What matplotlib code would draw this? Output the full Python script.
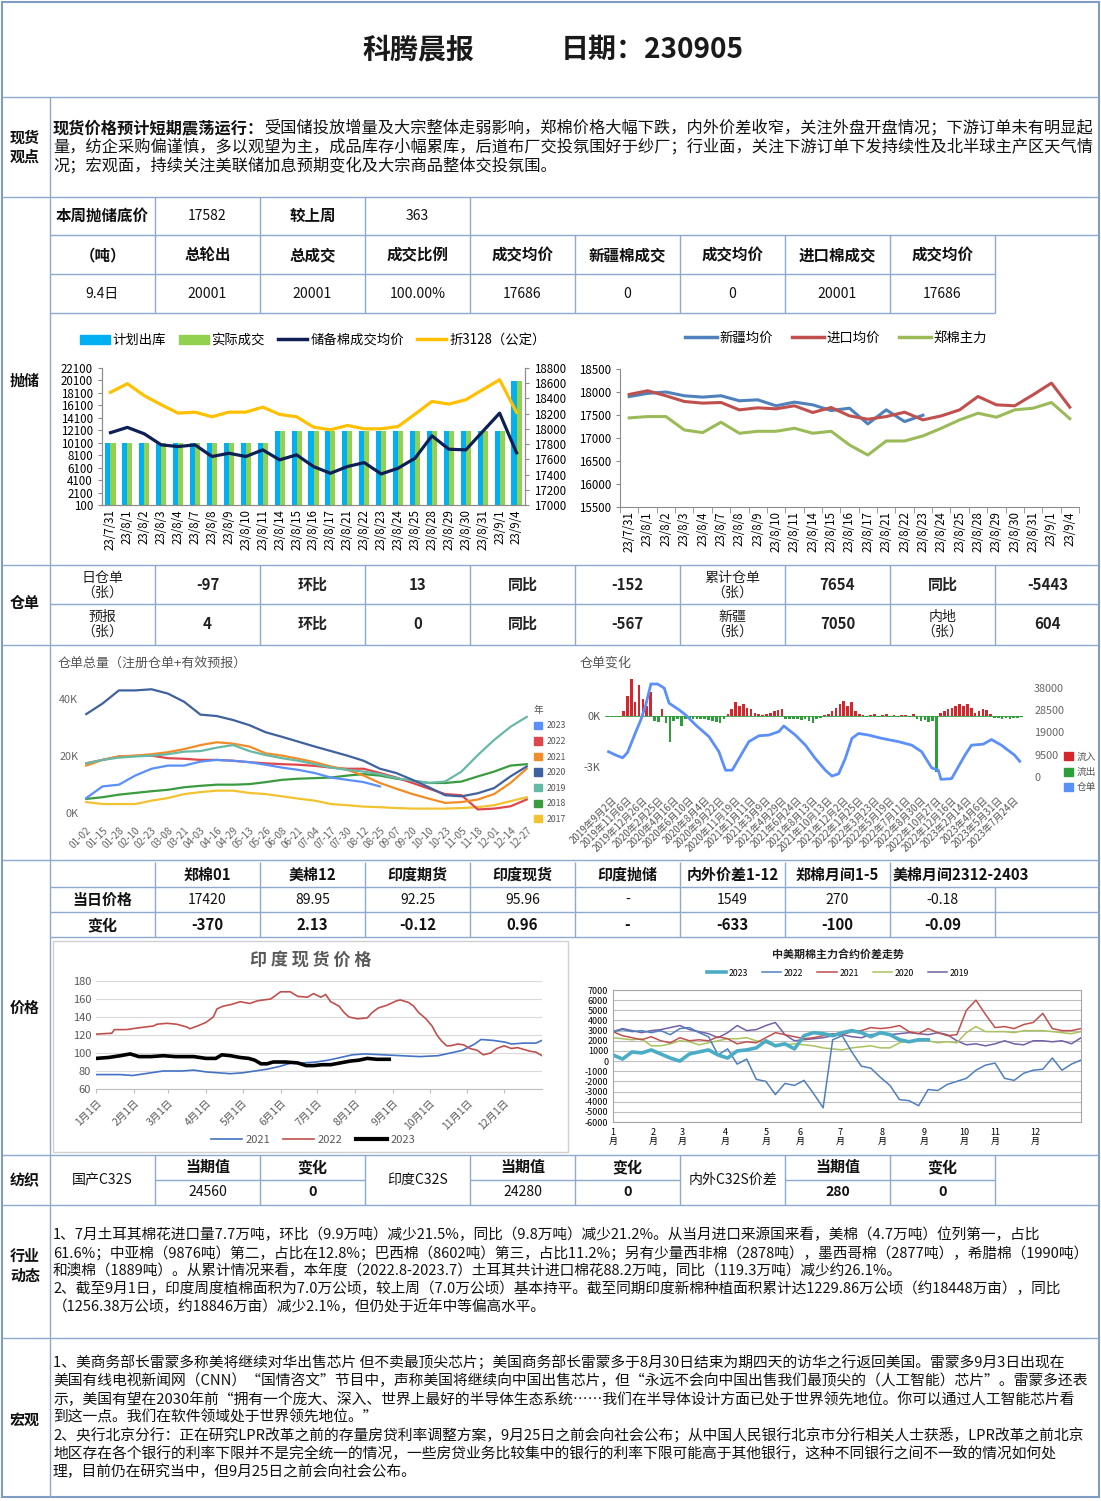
import numpy as np
import matplotlib
matplotlib.use('Agg')
import matplotlib.pyplot as plt
from matplotlib.patches import Rectangle, Patch
from matplotlib.lines import Line2D

plt.rcParams['font.family'] = ['Noto Sans CJK SC', 'DejaVu Sans']
plt.rcParams['axes.unicode_minus'] = False

# ================= DATA =================
title_left = '科腾晨报'
title_right = '日期：230905'

view_bold = '现货价格预计短期震荡运行：'
view_lines = ['受国储投放增量及大宗整体走弱影响，郑棉价格大幅下跌，内外价差收窄，关注外盘开盘情况；下游订单未有明显起',
              '量，纺企采购偏谨慎，多以观望为主，成品库存小幅累库，后道布厂交投氛围好于纱厂；行业面，关注下游订单下发持续性及北半球主产区天气情',
              '况；宏观面，持续关注美联储加息预期变化及大宗商品整体交投氛围。']

auc_row1 = ['本周抛储底价', '17582', '较上周', '363']
auc_head = ['（吨）', '总轮出', '总成交', '成交比例', '成交均价', '新疆棉成交', '成交均价', '进口棉成交', '成交均价']
auc_vals = ['9.4日', '20001', '20001', '100.00%', '17686', '0', '0', '20001', '17686']

dates1 = ['23/7/31', '23/8/1', '23/8/2', '23/8/3', '23/8/4', '23/8/7', '23/8/8', '23/8/9', '23/8/10',
          '23/8/11', '23/8/14', '23/8/15', '23/8/16', '23/8/17', '23/8/21', '23/8/22', '23/8/23',
          '23/8/24', '23/8/25', '23/8/28', '23/8/29', '23/8/30', '23/8/31', '23/9/1', '23/9/4']
plan_out = [10000]*10 + [12000]*14 + [20001]
actual_deal = [10000]*10 + [12000]*14 + [20001]
reserve_avg = [17950, 18020, 17935, 17790, 17768, 17790, 17637, 17680, 17637, 17724, 17593, 17659,
               17505, 17417, 17505, 17557, 17408, 17483, 17615, 17909, 17733, 17724, 17966, 18207, 17686]
zhe3128 = [18480, 18594, 18436, 18317, 18207, 18220, 18159, 18220, 18220, 18286, 18190, 18159,
           18023, 17988, 18045, 18001, 18001, 18032, 18194, 18361, 18326, 18383, 18515, 18646, 18216]

xj_avg = [17900, 17970, 18000, 17918, 17889, 17918, 17809, 17830, 17700, 17780, 17721, 17597,
          17648, 17306, 17612, 17357, 17495]
imp_avg = [17947, 18027, 17918, 17794, 17758, 17772, 17612, 17656, 17634, 17700, 17554, 17663,
           17481, 17408, 17466, 17561, 17394, 17481, 17612, 17903, 17721, 17700, 17940, 18194, 17670]
zc_main = [17437, 17466, 17466, 17175, 17117, 17343, 17103, 17146, 17146, 17212, 17103, 17146,
           16848, 16630, 16935, 16935, 17045, 17212, 17394, 17539, 17452, 17612, 17648, 17772, 17420]

wr_row1 = [('日仓单\n（张）', 0), ('-97', 1), ('环比', 1), ('13', 1), ('同比', 1), ('-152', 1),
           ('累计仓单\n（张）', 0), ('7654', 1), ('同比', 1), ('-5443', 1)]
wr_row2 = [('预报\n（张）', 0), ('4', 1), ('环比', 1), ('0', 1), ('同比', 1), ('-567', 1),
           ('新疆\n（张）', 0), ('7050', 1), ('内地\n（张）', 0), ('604', 1)]

# warehouse total (K) sampled at tick dates
wt_ticks = ['01-02', '01-15', '01-28', '02-10', '02-23', '03-08', '03-21', '04-03', '04-16', '04-29',
            '05-13', '05-26', '06-08', '06-21', '07-04', '07-17', '07-30', '08-12', '08-25', '09-07',
            '09-20', '10-10', '10-23', '11-05', '11-18', '12-01', '12-14', '12-27']
wt_2023 = [5.2, 9.3, 9.9, 13.1, 15.5, 16.6, 16.6, 18.0, 18.6, 18.3, 17.8, 16.9, 15.9, 15.1, 14.0,
           12.4, 11.6, 10.8, 9.3] + [np.nan]*9
wt_2022 = [17.4, 18.6, 19.8, 20.0, 20.1, 19.2, 19.0, 18.6, 18.6, 18.3, 17.8, 17.4, 17.1, 16.9, 16.5,
           15.9, 15.5, 15.5, 14.0, 12.4, 10.5, 8.5, 6.6, 6.2, 1.2, 1.5, 2.3, 4.7]
wt_2021 = [16.6, 18.6, 19.8, 20.1, 20.6, 21.3, 22.4, 23.8, 24.8, 24.3, 23.3, 20.9, 20.1, 19.0, 17.8,
           16.3, 15.1, 13.1, 10.5, 8.5, 6.6, 5.0, 3.5, 3.8, 4.7, 6.6, 10.5, 15.5]
wt_2020 = [34.7, 38.4, 43.0, 43.0, 43.4, 41.9, 39.0, 34.5, 34.0, 32.6, 30.8, 28.3, 26.7, 25.0, 23.3,
           21.7, 20.1, 18.3, 15.5, 14.0, 11.6, 9.0, 6.2, 5.8, 6.9, 8.7, 12.8, 16.3]
wt_2019 = [17.4, 18.6, 19.4, 19.8, 20.1, 20.6, 21.5, 21.7, 22.9, 23.8, 21.7, 20.3, 19.2, 18.3, 17.1,
           15.9, 15.1, 14.5, 13.6, 12.2, 11.3, 10.5, 11.0, 14.5, 20.3, 25.6, 30.2, 33.7]
wt_2018 = [4.9, 5.5, 6.4, 7.0, 7.6, 8.1, 9.0, 9.5, 9.9, 9.9, 10.1, 10.8, 11.6, 12.0, 12.2,
           12.4, 13.1, 13.6, 13.1, 12.0, 11.3, 10.5, 10.5, 11.0, 12.8, 14.5, 16.6, 17.1]
wt_2017 = [3.8, 3.1, 3.1, 3.1, 4.3, 5.2, 6.6, 7.3, 7.8, 7.8, 7.0, 6.6, 5.8, 5.0, 4.3,
           3.1, 2.7, 2.2, 2.0, 1.7, 1.5, 1.5, 1.5, 1.7, 2.0, 2.7, 4.1, 5.5]

# warehouse change chart
wc_ticks = ['2019年9月2日', '2019年11月6日', '2019年12月26日', '2020年2月25日', '2020年4月16日',
            '2020年6月10日', '2020年8月4日', '2020年9月22日', '2020年11月19日', '2021年1月11日',
            '2021年3月9日', '2021年4月29日', '2021年6月24日', '2021年8月13日', '2021年10月13日',
            '2021年12月2日', '2022年1月25日', '2022年3月23日', '2022年5月19日', '2022年7月11日',
            '2022年8月30日', '2022年10月27日', '2022年12月16日', '2023年2月14日', '2023年4月6日',
            '2023年5月31日', '2023年7月24日']
# net daily change (K), sampled every quarter of a tick interval
wc_net = [-0.05, -0.05, -0.05, -0.05, 0.3, 1.2, 2.2, 0.8, 1.8, 1.0, 0.6, 1.4,
          -0.3, -0.35, 0.4, -0.4, -1.5, -0.3, -0.2, -0.6, -0.2, -0.15, -0.2, -0.2,
          -0.15, -0.2, -0.25, -0.3, -0.35, -0.4, -0.2, 0.1, 0.4, 0.8, 0.6, 0.7,
          0.5, 0.4, 0.2, 0.1, 0.05, 0.1, 0.15, 0.3, 0.35, 0.4, -0.15, -0.15,
          -0.2, -0.2, -0.25, -0.2, -0.3, -0.4, -0.2, -0.1, 0.05, 0.1, 0.3, 0.5,
          0.7, 0.9, 0.6, 0.8, 0.3, 0.1, 0.05, -0.05, 0.05, 0.1, -0.05, 0.05,
          0.1, -0.05, 0.05, -0.05, 0.05, 0.05, -0.05, 0.1, -0.2, -0.3, -0.25, -0.35,
          -0.3, -3.3, 0.2, 0.3, 0.4, 0.5, 0.6, 0.7, 0.6, 0.7, 0.5, 0.2,
          0.3, 0.4, 0.35, 0.1, -0.1, -0.1, -0.15, -0.1, -0.2, -0.1, -0.1, -0.05]
# warehouse receipts level: (position on tick scale, value)
wr_pos = [-0.22, 0.26, 0.69, 1.01, 1.55, 1.87, 2.19, 2.52, 2.95, 3.38, 3.70, 4.34, 4.77, 5.42, 6.28,
          6.92, 7.35, 7.78, 8.22, 8.86, 9.51, 10.15, 10.80, 11.12, 11.87, 12.52, 13.16, 13.81, 14.24,
          14.67, 15.10, 15.53, 15.96, 16.60, 17.46, 18.54, 19.40, 20.04, 20.69, 21.12, 21.29, 21.98,
          22.84, 23.27, 24.02, 24.56, 25.20, 26.06, 26.39]
wr_val = [10800, 9300, 8200, 10500, 19400, 24400, 30800, 39700, 39700, 38000, 31500, 28700, 26500,
          22200, 17200, 10800, 2900, 2900, 7900, 15100, 17600, 17900, 19400, 21800, 17900, 13600,
          7900, 2900, 400, 1400, 7900, 16500, 18600, 17900, 16500, 15100, 13600, 10800, 3900, 2900,
          -1000, -700, 9300, 13600, 14000, 16000, 13600, 9300, 6700]

price_head = ['', '郑棉01', '美棉12', '印度期货', '印度现货', '印度抛储', '内外价差1-12', '郑棉月间1-5', '美棉月间2312-2403']
price_today = ['当日价格', '17420', '89.95', '92.25', '95.96', '-', '1549', '270', '-0.18']
price_chg = ['变化', '-370', '2.13', '-0.12', '0.96', '-', '-633', '-100', '-0.09']

# India spot price (day of year, value)
in21_d = [0, 20, 30, 40, 55, 70, 80, 90, 100, 110, 120, 130, 140, 150, 160, 170, 180, 190, 200, 210,
          220, 235, 250, 265, 280, 290, 300, 310, 315, 325, 335, 340, 350, 360, 365]
in21_v = [76, 76, 75, 77, 80, 80, 81, 79, 78, 77, 78, 80, 82, 85, 89, 89, 90, 92, 95, 98,
          99, 98, 97, 96, 97, 100, 103, 110, 115, 114, 112, 110, 111, 111, 114]
in22_d = [0, 13, 15, 25, 35, 47, 50, 58, 66, 74, 77, 83, 90, 96, 99, 104, 111, 118, 126, 132, 143,
          151, 159, 165, 173, 178, 184, 188, 192, 199, 203, 207, 214, 222, 226, 231, 238, 246, 249,
          256, 260, 264, 270, 275, 279, 283, 287, 290, 296, 301, 306, 312, 317, 323, 328, 334, 340,
          345, 350, 355, 360, 365]
in22_v = [121, 122, 126, 126, 128, 130, 132, 133, 132, 129, 127, 130, 134, 140, 149, 152, 154, 157,
          155, 158, 160, 168, 168, 163, 162, 166, 162, 165, 157, 152, 145, 140, 138, 139, 145, 150,
          153, 158, 159, 156, 152, 145, 138, 130, 120, 113, 108, 108, 110, 109, 105, 103, 98, 100,
          105, 108, 105, 106, 104, 102, 101, 97]
in23_d = [0, 10, 20, 28, 35, 45, 55, 65, 80, 90, 98, 103, 110, 118, 125, 130, 135, 140, 145, 155,
          165, 172, 178, 185, 192, 200, 208, 215, 222, 230, 240]
in23_v = [94, 95, 97, 99, 96, 96, 97, 96, 96, 94, 94, 98, 97, 95, 94, 92, 88, 88, 90, 90,
          89, 86, 86, 87, 87, 89, 91, 92, 94, 93, 93]
india_months = ['1月1日', '2月1日', '3月1日', '4月1日', '5月1日', '6月1日', '7月1日', '8月1日',
                '9月1日', '10月1日', '11月1日', '12月1日']
india_month_doy = [0, 31, 59, 90, 120, 151, 181, 212, 243, 273, 304, 334]

# China-US spread, sampled every 5 trading days
sp_months = ['1\n月', '2\n月', '3\n月', '4\n月', '5\n月', '6\n月', '7\n月', '8\n月', '9\n月', '10\n月', '11\n月', '12\n月']
sp_month_idx = [0, 21, 36, 59, 80, 98, 119, 141, 163, 184, 200, 221]
sp_2023 = [600, 200, 900, 800, 1100, 700, 300, 0, 700, 900, 1100, 600, 300, 1000, 1100, 1300, 2000,
           1500, 1700, 1200, 2500, 2800, 2700, 2500, 2800, 3000, 2800, 2400, 2800, 2600, 2100, 1900,
           2100, 2100]
sp_2022 = [2900, 3100, 2900, 3000, 2800, 3000, 2600, 3200, 3300, 2800, 2400, 600, 1200, -300, 200,
           -1800, -2000, -3300, -2200, -2400, -1900, -3200, -4600, 2100, 2500, 900, -500, -700, -1600,
           -2400, -3800, -3900, -4400, -2800, -2900, -2300, -2000, -1700, -900, -400, -200, -1700,
           -1900, -1200, -900, -800, 300, -900, -300, 100]
sp_2021 = [2900, 2500, 2300, 2100, 2400, 2000, 1800, 2300, 2000, 2100, 2000, 2400, 2200, 1700, 1900,
           1800, 2300, 2800, 2600, 2400, 2200, 2300, 2500, 2700, 2600, 2900, 3000, 3300, 3200, 3300,
           3500, 2900, 2700, 3200, 2800, 2500, 2600, 5000, 6000, 4600, 3300, 3400, 3200, 3600, 3800,
           4700, 3200, 3000, 3000, 3200]
sp_2020 = [2300, 2200, 2100, 2200, 1500, 1500, 1700, 2000, 1900, 1600, 1800, 2000, 2200, 2200, 2300,
           2000, 1800, 1500, 1600, 1700, 1600, 1500, 1300, 1200, 1100, 1300, 1400, 1500, 1300, 1300,
           1800, 2000, 2100, 2000, 1800, 1900, 1800, 2800, 3400, 2900, 2900, 2900, 2800, 3000, 3000,
           3000, 2900, 2800, 2700, 2900]
sp_2019 = [2900, 3200, 3000, 2800, 3000, 3100, 3300, 3500, 3100, 2900, 2700, 2300, 2800, 3500, 3000,
           3100, 3500, 3800, 2600, 2000, 2100, 2200, 2300, 2500, 2600, 2400, 2300, 2600, 2700, 2600,
           2700, 2800, 2700, 2600, 2800, 2600, 2000, 1600, 1700, 1500, 1700, 2000, 1700, 1600, 2000,
           2000, 1900, 2000, 1700, 2300]

textile = [('国产C32S', '24560', '0'), ('印度C32S', '24280', '0'), ('内外C32S价差', '280', '0')]

industry_lines = [
    '1、7月土耳其棉花进口量7.7万吨，环比（9.9万吨）减少21.5%，同比（9.8万吨）减少21.2%。从当月进口来源国来看，美棉（4.7万吨）位列第一，占比',
    '61.6%；中亚棉（9876吨）第二，占比在12.8%；巴西棉（8602吨）第三，占比11.2%；另有少量西非棉（2878吨），墨西哥棉（2877吨），希腊棉（1990吨）',
    '和澳棉（1889吨）。从累计情况来看，本年度（2022.8-2023.7）土耳其共计进口棉花88.2万吨，同比（119.3万吨）减少约26.1%。',
    '2、截至9月1日，印度周度植棉面积为7.0万公顷，较上周（7.0万公顷）基本持平。截至同期印度新棉种植面积累计达1229.86万公顷（约18448万亩），同比',
    '（1256.38万公顷，约18846万亩）减少2.1%，但仍处于近年中等偏高水平。']
macro_lines = [
    '1、美商务部长雷蒙多称美将继续对华出售芯片 但不卖最顶尖芯片；美国商务部长雷蒙多于8月30日结束为期四天的访华之行返回美国。雷蒙多9月3日出现在',
    '美国有线电视新闻网（CNN）“国情咨文”节目中，声称美国将继续向中国出售芯片，但“永远不会向中国出售我们最顶尖的（人工智能）芯片”。雷蒙多还表',
    '示，美国有望在2030年前“拥有一个庞大、深入、世界上最好的半导体生态系统……我们在半导体设计方面已处于世界领先地位。你可以通过人工智能芯片看',
    '到这一点。我们在软件领域处于世界领先地位。”',
    '2、央行北京分行：正在研究LPR改革之前的存量房贷利率调整方案，9月25日之前会向社会公布；从中国人民银行北京市分行相关人士获悉，LPR改革之前北京',
    '地区存在各个银行的利率下限并不是完全统一的情况，一些房贷业务比较集中的银行的利率下限可能高于其他银行，这种不同银行之间不一致的情况如何处',
    '理，目前仍在研究当中，但9月25日之前会向社会公布。']

# ================= FIGURE =================
W, H = 1101, 1501
fig = plt.figure(figsize=(W / 100, H / 100), dpi=100)
ax0 = fig.add_axes([0, 0, 1, 1])
ax0.set_xlim(0, W)
ax0.set_ylim(H, 0)
ax0.axis('off')
renderer = fig.canvas.get_renderer()

LC = '#8ea9cf'


def box(l, t, r, b):
    return [l / W, 1 - b / H, (r - l) / W, (b - t) / H]


def hl(y, x1, x2, lw=1.0, c=LC):
    ax0.plot([x1, x2], [y, y], color=c, lw=lw, solid_capstyle='butt', zorder=3)


def vl(x, y1, y2, lw=1.0, c=LC):
    ax0.plot([x, x], [y1, y2], color=c, lw=lw, solid_capstyle='butt', zorder=3)


def tx(x, y, s, px=15, bold=False, ha='center', va='center', color='#111111', **kw):
    return ax0.text(x, y, s, fontsize=px * 0.72, fontweight='bold' if bold else 'normal',
                    ha=ha, va=va, color=color, zorder=4, **kw)


def width_of(s, fs, bold=False):
    t = ax0.text(0, 0, s, fontsize=fs, fontweight='bold' if bold else 'normal')
    w = t.get_window_extent(renderer).width
    t.remove()
    return w


cx = [50 + 105 * i + 52.5 for i in range(10)]

# --- outer frame and section lines ---
ax0.add_patch(Rectangle((2, 2), 1097, 1495, fill=False, ec='#7f9cc6', lw=1.5, zorder=3))
for y in [97, 197, 565, 645, 860, 1155, 1205, 1338]:
    hl(y, 2, 1099)
vl(50, 97, 1497)

# --- title ---
tx(418, 50, title_left, px=28, bold=True, color='#1a1a1a')
tx(652, 50, title_right, px=28, bold=True, color='#1a1a1a')

# --- 现货观点 ---
tx(25, 147, '现货\n观点', px=15, bold=True, linespacing=1.25)
w1 = width_of(view_bold, 10.0, bold=True) + width_of(view_lines[0], 10.0)
fs_v = min(10.0 * 1036 / w1, 10.0 * 1036 / width_of(view_lines[1], 10.0))
wb = width_of(view_bold, fs_v, bold=True)
ax0.text(53, 128, view_bold, fontsize=fs_v, fontweight='bold', ha='left', va='center', color='#111')
ax0.text(53 + wb, 128, view_lines[0], fontsize=fs_v, ha='left', va='center', color='#111')
ax0.text(53, 147, view_lines[1], fontsize=fs_v, ha='left', va='center', color='#111')
ax0.text(53, 166, view_lines[2], fontsize=fs_v, ha='left', va='center', color='#111')

# --- 抛储 table ---
tx(25, 381, '抛储', px=15, bold=True)
hl(235, 50, 1099)
hl(274, 50, 995)
hl(313, 50, 995)
for i in range(1, 5):
    vl(50 + 105 * i, 197, 235)
for i in range(1, 10):
    vl(50 + 105 * i, 235, 313)
for i, s in enumerate(auc_row1):
    tx(cx[i], 216, s, px=15.5 if i % 2 == 0 else 14, bold=(i % 2 == 0))
for i, s in enumerate(auc_head):
    tx(cx[i], 255, s, px=15.5, bold=True)
for i, s in enumerate(auc_vals):
    tx(cx[i], 294, s, px=14)

# --- chart 1: auction bars + prices ---
x1 = np.arange(len(dates1))
ax1 = fig.add_axes(box(102, 368, 525, 505))
ax1.bar(x1 - 0.15, plan_out, 0.3, color='#00B0F0', zorder=2)
ax1.bar(x1 + 0.15, actual_deal, 0.3, color='#92D050', zorder=2)
ax1.set_ylim(100, 22100)
ax1.set_yticks(range(100, 22101, 2000))
ax1.set_xlim(-0.5, len(dates1) - 0.5)
ax1.set_xticks(x1)
ax1.set_xticklabels(dates1, rotation=90, fontsize=8.3)
ax1.tick_params(axis='y', labelsize=8.3, length=3, color='#888')
ax1.tick_params(axis='x', length=0, pad=3)
ax1b = ax1.twinx()
ax1b.plot(x1, zhe3128, color='#FFC000', lw=2.3, zorder=3)
ax1b.plot(x1, reserve_avg, color='#0d1f55', lw=2.3, zorder=4)
ax1b.set_ylim(17000, 18800)
ax1b.set_yticks(range(17000, 18801, 200))
ax1b.tick_params(axis='y', labelsize=8.3, length=3, color='#888')
for a in (ax1, ax1b):
    a.spines['top'].set_visible(False)
    for s in ('left', 'right', 'bottom'):
        a.spines[s].set_color('#8c8c8c')
h1 = [Patch(color='#00B0F0'), Patch(color='#92D050'),
      Line2D([], [], color='#0d1f55', lw=2.5), Line2D([], [], color='#FFC000', lw=2.5)]
fig.legend(h1, ['计划出库', '实际成交', '储备棉成交均价', '折3128（公定）'], loc='center',
           bbox_to_anchor=(313 / W, 1 - 340 / H), ncol=4, frameon=False, fontsize=9.6,
           handlelength=2.2, handleheight=0.7, handletextpad=0.2, columnspacing=1.0)

# --- chart 2: spot price lines ---
ax2 = fig.add_axes(box(620, 369, 1079, 507))
x2 = np.arange(len(dates1))
ax2.plot(x2[:len(xj_avg)], xj_avg, color='#4F81BD', lw=2.2)
ax2.plot(x2, imp_avg, color='#C0504D', lw=2.2)
ax2.plot(x2, zc_main, color='#9BBB59', lw=2.2)
ax2.set_ylim(15500, 18500)
ax2.set_yticks(range(15500, 18501, 500))
ax2.set_xlim(-0.5, len(dates1) - 0.5)
ax2.set_xticks(x2)
ax2.set_xticklabels(dates1, rotation=90, fontsize=8.3)
ax2.tick_params(axis='y', labelsize=8.3, length=3, color='#888')
ax2.set_xticks(np.arange(-0.5, len(dates1), 1), minor=True)
ax2.tick_params(axis='x', which='minor', length=4, color='#888')
ax2.tick_params(axis='x', which='major', length=0, pad=3)
for s in ('top', 'right'):
    ax2.spines[s].set_visible(False)
for s in ('left', 'bottom'):
    ax2.spines[s].set_color('#8c8c8c')
h2 = [Line2D([], [], color='#4F81BD', lw=2.5), Line2D([], [], color='#C0504D', lw=2.5),
      Line2D([], [], color='#9BBB59', lw=2.5)]
fig.legend(h2, ['新疆均价', '进口均价', '郑棉主力'], loc='center', bbox_to_anchor=(836 / W, 1 - 338 / H),
           ncol=3, frameon=False, fontsize=9.6, handlelength=2.4, handletextpad=0.2, columnspacing=1.4)

# --- 仓单 table ---
tx(25, 603, '仓单', px=15, bold=True)
hl(604, 50, 1099)
for i in range(1, 10):
    vl(50 + 105 * i, 565, 645)
for i, (s, b) in enumerate(wr_row1):
    tx(cx[i], 585, s, px=15 if b else 14, bold=bool(b), linespacing=1.05, color='#222')
for i, (s, b) in enumerate(wr_row2):
    tx(cx[i], 624, s, px=15 if b else 14, bold=bool(b), linespacing=1.05, color='#222')

# --- chart 3: warehouse totals by year ---
ax3 = fig.add_axes(box(83, 685, 530, 820))
xw = np.arange(len(wt_ticks))
wt_series = [('2017', wt_2017, '#F2C230'), ('2018', wt_2018, '#3A9B3F'), ('2022', wt_2022, '#E0474C'),
             ('2021', wt_2021, '#F28C28'), ('2019', wt_2019, '#67B8A6'), ('2020', wt_2020, '#3F619E'),
             ('2023', wt_2023, '#5B8FF9')]
for name, vals, col in wt_series:
    ax3.plot(xw, vals, color=col, lw=1.6)
ax3.set_xlim(-0.2, len(wt_ticks) - 0.8)
ax3.set_ylim(-2.5, 44.9)
ax3.set_yticks([0, 20, 40])
ax3.set_yticklabels(['0K', '20K', '40K'])
ax3.set_xticks(xw)
ax3.set_xticklabels(wt_ticks, rotation=45, ha='right', rotation_mode='anchor', fontsize=7.2)
ax3.tick_params(length=0, colors='#666666', labelsize=7.2)
ax3.tick_params(axis='y', labelsize=7.8)
for s in ax3.spines.values():
    s.set_visible(False)
tx(58, 663, '仓单总量（注册仓单+有效预报）', px=13, ha='left', color='#555555')
leg_order = [('2023', '#5B8FF9'), ('2022', '#E0474C'), ('2021', '#F28C28'), ('2020', '#3F619E'),
             ('2019', '#67B8A6'), ('2018', '#3A9B3F'), ('2017', '#F2C230')]
lg3 = fig.legend([Patch(color=c) for _, c in leg_order], [n for n, _ in leg_order], loc='upper left',
                 bbox_to_anchor=(526 / W, 1 - 697 / H), frameon=False, fontsize=6.3, title='年',
                 title_fontsize=7, handlelength=0.9, handleheight=0.9, handletextpad=0.5,
                 labelspacing=0.75, alignment='left')
for t in lg3.get_texts():
    t.set_color('#555555')
lg3.get_title().set_color('#555555')

# --- chart 4: warehouse change ---
ax4 = fig.add_axes(box(605, 672, 1023, 790))
wc_pos = np.arange(len(wc_net)) * 0.25 - 0.25
wc_arr = np.array(wc_net)
ax4.bar(wc_pos[wc_arr > 0], wc_arr[wc_arr > 0], 0.17, color='#D7262B', lw=0)
ax4.bar(wc_pos[wc_arr <= 0], wc_arr[wc_arr <= 0], 0.17, color='#2E9E3A', lw=0)
ax4.axhline(0, color='#2E9E3A', lw=0.6)
ax4.set_ylim(-4.35, 2.59)
ax4.set_yticks([0, -3])
ax4.set_yticklabels(['0K', '-3K'])
ax4.set_xlim(-0.45, 26.6)
ax4.set_xticks(np.arange(len(wc_ticks)))
ax4.set_xticklabels(wc_ticks, rotation=45, ha='right', rotation_mode='anchor', fontsize=7.0)
ax4.tick_params(length=0, colors='#555555', labelsize=7.0)
ax4.tick_params(axis='y', labelsize=7.8)
ax4b = ax4.twinx()
ax4b.plot(wr_pos, wr_val, color='#5B8FF9', lw=2.0)
ax4b.set_ylim(-5550, 44830)
ax4b.set_yticks([0, 9500, 19000, 28500, 38000])
ax4b.tick_params(length=0, colors='#666666', labelsize=7.8, pad=8)
for a in (ax4, ax4b):
    for s in a.spines.values():
        s.set_visible(False)
tx(580, 663, '仓单变化', px=13, ha='left', color='#555555')
lg4 = fig.legend([Patch(color='#D7262B'), Patch(color='#2E9E3A'), Patch(color='#5B8FF9')],
                 ['流入', '流出', '仓单'], loc='upper left', bbox_to_anchor=(1055 / W, 1 - 743 / H),
                 frameon=False, fontsize=7, handlelength=0.9, handleheight=0.9, handletextpad=0.4,
                 labelspacing=0.55)
for t in lg4.get_texts():
    t.set_color('#555555')

# --- price table ---
tx(25, 1008, '价格', px=15, bold=True)
for y in [887, 912]:
    hl(y, 50, 1099)
hl(937, 50, 1099)
for i in range(1, 9):
    vl(50 + 105 * i, 862, 937)
vl(995, 887, 937)
for i, s in enumerate(price_head):
    if i == 8:
        tx(893, 875, s, px=15, bold=True, ha='left')
    elif s:
        tx(cx[i], 875, s, px=15, bold=True)
for i, s in enumerate(price_today):
    tx(cx[i], 900, s, px=15 if i == 0 else 14, bold=(i == 0))
for i, s in enumerate(price_chg):
    tx(cx[i], 925, s, px=15, bold=True)

# --- chart 5: India spot ---
ax0.add_patch(Rectangle((53, 941), 515, 211, fill=False, ec='#d0d0d0', lw=1.0, zorder=3))
ax5 = fig.add_axes(box(96, 981, 542, 1089))
ax5.plot(in21_d, in21_v, color='#4472C4', lw=1.2)
ax5.plot(in22_d, in22_v, color='#C0504D', lw=1.2)
ax5.plot(in23_d, in23_v, color='#000000', lw=2.6)
ax5.set_xlim(0, 365)
ax5.set_ylim(60, 180)
ax5.set_yticks(range(60, 181, 20))
ax5.grid(axis='y', color='#d9d9d9', lw=0.8)
ax5.set_axisbelow(True)
ax5.set_xticks(india_month_doy)
ax5.set_xticklabels(india_months, rotation=45, ha='right', rotation_mode='anchor', fontsize=7.5)
ax5.tick_params(axis='x', length=3, color='#bfbfbf', colors='#595959')
ax5.tick_params(axis='y', length=0, colors='#595959', labelsize=8)
for s in ('top', 'right', 'left'):
    ax5.spines[s].set_visible(False)
ax5.spines['bottom'].set_color('#bfbfbf')
tx(311, 960, '印 度 现 货 价 格', px=17, bold=True, color='#595959')
lg5 = fig.legend([Line2D([], [], color='#4472C4', lw=1.2), Line2D([], [], color='#C0504D', lw=1.2),
                  Line2D([], [], color='#000000', lw=3)], ['2021', '2022', '2023'], loc='center',
                 bbox_to_anchor=(313 / W, 1 - 1140 / H), ncol=3, frameon=False, fontsize=8,
                 handlelength=2.8, handletextpad=0.3, columnspacing=1.2)
for t in lg5.get_texts():
    t.set_color('#595959')

# --- chart 6: China-US spread ---
ax6 = fig.add_axes(box(613, 990, 1081, 1122))
t_full = np.arange(len(sp_2022)) * 5
ax6.plot(t_full, sp_2019, color='#7360A8', lw=1.1)
ax6.plot(t_full, sp_2020, color='#A9C25E', lw=1.1)
ax6.plot(t_full, sp_2021, color='#C0504D', lw=1.1)
ax6.plot(t_full, sp_2022, color='#4F7FBF', lw=1.1)
ax6.plot(t_full[:len(sp_2023)], sp_2023, color='#4BACC6', lw=2.6)
ax6.set_xlim(0, 245)
ax6.set_ylim(-6000, 7000)
ax6.set_yticks(range(-6000, 7001, 1000))
ax6.grid(axis='y', color='#bfbfbf', lw=0.8)
ax6.set_axisbelow(True)
ax6.set_xticks(sp_month_idx)
ax6.set_xticklabels(sp_months, fontsize=6.5, linespacing=1.1)
ax6.tick_params(axis='x', length=0, pad=4)
ax6.tick_params(axis='y', length=0, labelsize=6.5)
for s in ax6.spines.values():
    s.set_color('#a6a6a6')
    s.set_linewidth(0.8)
tx(838, 954, '中美期棉主力合约价差走势', px=11, bold=True, color='#222')
fig.legend([Line2D([], [], color='#4BACC6', lw=2.6), Line2D([], [], color='#4F7FBF', lw=1.1),
            Line2D([], [], color='#C0504D', lw=1.1), Line2D([], [], color='#A9C25E', lw=1.1),
            Line2D([], [], color='#7360A8', lw=1.1)], ['2023', '2022', '2021', '2020', '2019'],
           loc='center', bbox_to_anchor=(838 / W, 1 - 973 / H), ncol=5, frameon=False, fontsize=6.3,
           handlelength=2.2, handletextpad=0.3, columnspacing=1.6)

# --- 纺织 ---
tx(25, 1180, '纺织', px=15, bold=True)
for i in range(1, 10):
    vl(50 + 105 * i, 1155, 1205)
for k in range(3):
    hl(1180, 155 + 315 * k, 365 + 315 * k)
for k, (name, val, chg) in enumerate(textile):
    base = 315 * k
    tx(cx[0] + base, 1180, name, px=14)
    tx(cx[1] + base, 1167, '当期值', px=15, bold=True)
    tx(cx[2] + base, 1167, '变化', px=15, bold=True)
    tx(cx[1] + base, 1192, val, px=14, bold=(k == 2))
    tx(cx[2] + base, 1192, chg, px=14.5, bold=True)

# --- 行业动态 ---
tx(25, 1266, '行业\n动态', px=15, bold=True, linespacing=1.25)
fs_i = min(10.0 * 1015 / width_of(industry_lines[0], 10.0),
           10.0 * 1038 / width_of(industry_lines[1], 10.0))
for j, s in enumerate(industry_lines):
    ax0.text(53, 1235 + 18 * j, s, fontsize=fs_i, ha='left', va='center', color='#111')

# --- 宏观 ---
tx(25, 1420, '宏观', px=15, bold=True)
fs_m = min(10.0 * 1037 / width_of(macro_lines[1], 10.0),
           10.0 * 1037 / width_of(macro_lines[2], 10.0),
           10.0 * 1037 / width_of(macro_lines[0], 10.0))
for j, s in enumerate(macro_lines):
    ax0.text(53, 1363 + 18.2 * j, s, fontsize=fs_m, ha='left', va='center', color='#111')

fig.savefig('out.png', dpi=100, facecolor='white')
